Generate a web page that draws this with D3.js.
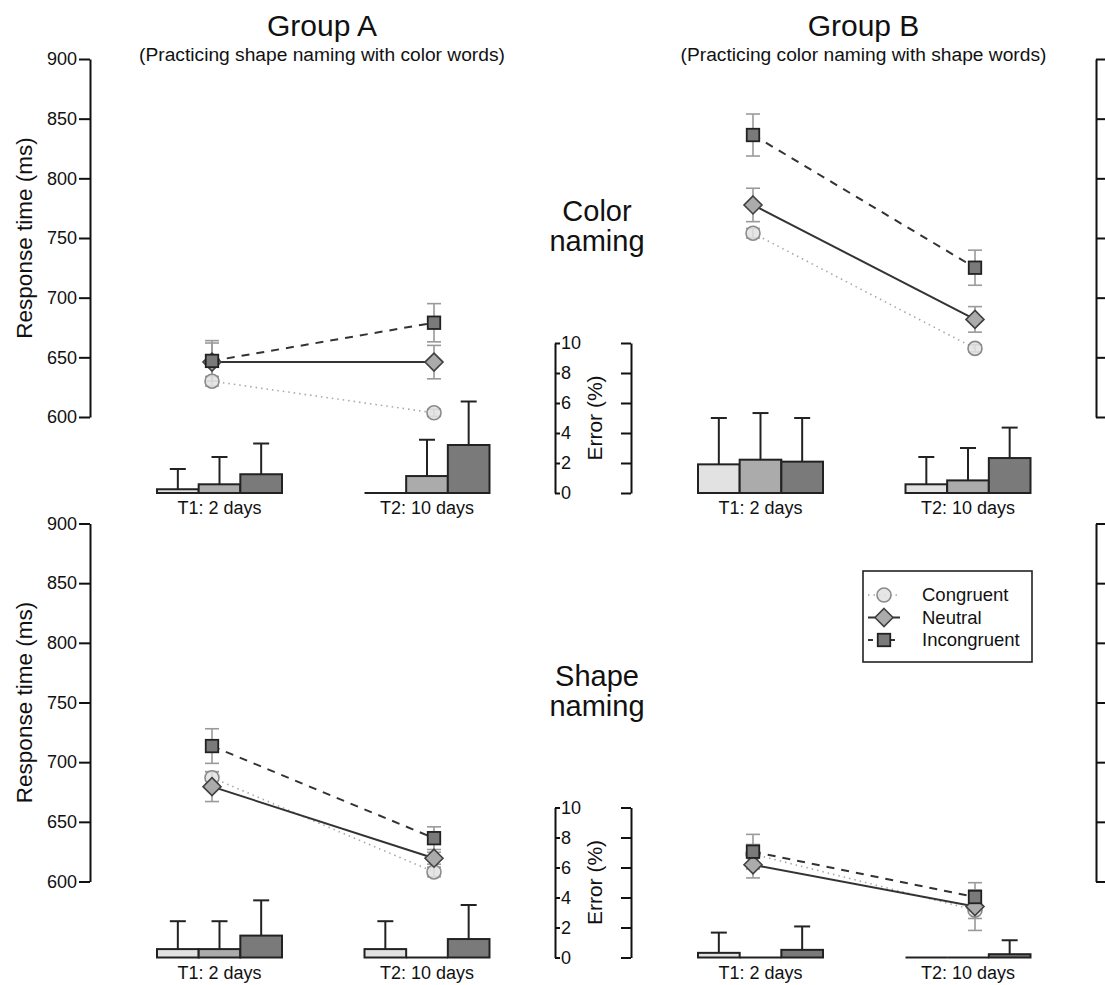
<!DOCTYPE html>
<html><head><meta charset="utf-8">
<script src="https://cdn.jsdelivr.net/npm/d3@7"></script>
<style>
body{margin:0;background:#fff;}
svg{display:block;font-family:"Liberation Sans",Arial,sans-serif;}
</style></head>
<body><svg id="c" width="1105" height="985"></svg>
<script>
// ---------- data ----------
const conditions = ["Congruent", "Neutral", "Incongruent"];
const timepoints = ["T1: 2 days", "T2: 10 days"];
const rtTicks = [600, 650, 700, 750, 800, 850, 900];
const errTicks = [0, 2, 4, 6, 8, 10];
const groupTitles = ["Group A", "Group B"];
const groupSubtitles = ["(Practicing shape naming with color words)", "(Practicing color naming with shape words)"];
const taskLabels = [["Color", "naming"], ["Shape", "naming"]];

// rows = conditions (Congruent, Neutral, Incongruent), cols = timepoints (T1, T2)
const rtColorA  = [[630, 603.5], [646, 646], [647, 679]];
const semColorA = [[4, 3], [16, 14], [17, 16]];
const errColorA = [[0.25, 0], [0.58, 1.13], [1.25, 3.2]];
const errSemColorA = [[1.35, 0], [1.82, 2.42], [2.05, 2.9]];

const rtColorB  = [[754, 657.5], [777.7, 681.8], [836.3, 725.1]];
const semColorB = [[4, 3], [14, 10.7], [17.6, 14.7]];
const errColorB = [[1.91, 0.58], [2.22, 0.84], [2.09, 2.33]];
const errSemColorB = [[3.09, 1.82], [3.11, 2.16], [2.91, 2.03]];

const rtShapeA  = [[687, 608], [679.5, 619.5], [713.5, 636.3]];
const semShapeA = [[5, 4], [12.5, 5], [14.5, 9.5]];
const errShapeA = [[0.56, 0.56], [0.56, 0], [1.46, 1.23]];
const errSemShapeA = [[1.86, 1.86], [1.86, 0], [2.35, 2.27]];

const rtShapeB  = [[623, 576], [614, 579], [625, 587]];
const semShapeB = [[8, 17], [11, 10], [14.5, 12]];
const errShapeB = [[0.31, 0], [0, 0], [0.51, 0.22]];
const errSemShapeB = [[1.35, 0], [0, 0], [1.56, 0.93]];

// ---------- styles ----------
const fills = {Congruent: "#e2e2e2", Neutral: "#ababab", Incongruent: "#7a7a7a"};
const mStroke = {Congruent: "#8a8a8a", Neutral: "#404040", Incongruent: "#222"};
const lineStyle = {
  Congruent: {stroke: "#a8a8a8", width: 1.6, dash: "1.5,4"},
  Neutral: {stroke: "#333", width: 2, dash: null},
  Incongruent: {stroke: "#333", width: 2, dash: "8,7"}
};

const svg = d3.select("#c");
const txt = "#111";

const rowOffsets = [0, 464.5];
const colOffsets = [0, 541];

const panels = [
  {row: 0, col: 0, rt: rtColorA, sem: semColorA, err: errColorA, errSem: errSemColorA},
  {row: 0, col: 1, rt: rtColorB, sem: semColorB, err: errColorB, errSem: errSemColorB},
  {row: 1, col: 0, rt: rtShapeA, sem: semShapeA, err: errShapeA, errSem: errSemShapeA},
  {row: 1, col: 1, rt: rtShapeB, sem: semShapeB, err: errShapeB, errSem: errSemShapeB}
];

function styleAxis(g, fs) {
  g.select(".domain").attr("stroke", "#111").attr("stroke-width", 2);
  g.selectAll(".tick line").attr("stroke", "#111").attr("stroke-width", 2);
  g.selectAll(".tick text").attr("fill", txt).style("font-size", fs + "px")
    .style("font-family", '"Liberation Sans",Arial,sans-serif');
}

panels.forEach(p => {
  const oy = rowOffsets[p.row], ox = colOffsets[p.col];
  const yRT = d3.scaleLinear().domain([600, 900]).range([417 + oy, 59 + oy]);
  const yErr = d3.scaleLinear().domain([0, 10]).range([493 + oy, 343 + oy]);
  const xPt = d3.scalePoint().domain(timepoints).range([212 + ox, 434 + ox]);
  const xBar = d3.scalePoint().domain(timepoints).range([219.5 + ox, 427 + ox]);
  const band = d3.scaleBand().domain(conditions).range([-62.5, 62.5]).paddingInner(0);
  const g = svg.append("g");

  // bars (error %)
  conditions.forEach((c, ci) => {
    timepoints.forEach((t, ti) => {
      const v = p.err[ci][ti], s = p.errSem[ci][ti];
      const x0 = xBar(t) + band(c);
      const xc = x0 + band.bandwidth() / 2;
      if (s > 0) {
        g.append("line").attr("x1", xc).attr("x2", xc)
          .attr("y1", yErr(v)).attr("y2", yErr(v + s))
          .attr("stroke", "#222").attr("stroke-width", 2);
        g.append("line").attr("x1", xc - 8).attr("x2", xc + 8)
          .attr("y1", yErr(v + s)).attr("y2", yErr(v + s))
          .attr("stroke", "#222").attr("stroke-width", 2);
      }
      if (v > 0) {
        g.append("rect").attr("x", x0).attr("width", band.bandwidth())
          .attr("y", yErr(v)).attr("height", yErr(0) - yErr(v))
          .attr("fill", fills[c]).attr("stroke", "#222").attr("stroke-width", 2);
      } else {
        g.append("line").attr("x1", x0).attr("x2", x0 + band.bandwidth())
          .attr("y1", yErr(0)).attr("y2", yErr(0))
          .attr("stroke", "#222").attr("stroke-width", 2);
      }
    });
  });

  // lines
  conditions.forEach((c, ci) => {
    const ls = lineStyle[c];
    const line = d3.line().x((d, i) => xPt(timepoints[i])).y(d => yRT(d));
    g.append("path").attr("d", line(p.rt[ci])).attr("fill", "none")
      .attr("stroke", ls.stroke).attr("stroke-width", ls.width)
      .attr("stroke-dasharray", ls.dash);
  });

  // RT error bars
  conditions.forEach((c, ci) => {
    timepoints.forEach((t, ti) => {
      const v = p.rt[ci][ti], s = p.sem[ci][ti], x = xPt(t);
      g.append("line").attr("x1", x).attr("x2", x).attr("y1", yRT(v - s)).attr("y2", yRT(v + s))
        .attr("stroke", "#9a9a9a").attr("stroke-width", 1.6);
      [v - s, v + s].forEach(e => g.append("line").attr("x1", x - 7).attr("x2", x + 7)
        .attr("y1", yRT(e)).attr("y2", yRT(e)).attr("stroke", "#9a9a9a").attr("stroke-width", 1.6));
    });
  });

  // markers
  conditions.forEach((c, ci) => {
    timepoints.forEach((t, ti) => {
      drawMarker(g, c, xPt(t), yRT(p.rt[ci][ti]));
    });
  });

  // x labels
  timepoints.forEach(t => {
    g.append("text").attr("x", xBar(t)).attr("y", 514 + oy).attr("text-anchor", "middle")
      .attr("fill", txt).style("font-size", "18px").text(t);
  });

  // axes
  if (p.col === 0) {
    const aL = svg.append("g").attr("transform", `translate(90,0)`)
      .call(d3.axisLeft(yRT).tickValues(rtTicks).tickSize(11).tickSizeOuter(0).tickPadding(2));
    styleAxis(aL, 18);
    const aE = svg.append("g").attr("transform", `translate(555,0)`)
      .call(d3.axisRight(yErr).tickValues(errTicks).tickSize(5).tickSizeOuter(0).tickPadding(1));
    styleAxis(aE, 18);
    svg.append("text").attr("transform", `translate(32,${(59 + 417) / 2 + oy}) rotate(-90)`)
      .attr("text-anchor", "middle").attr("fill", txt).style("font-size", "22.5px").text("Response time (ms)");
  } else {
    const aE = svg.append("g").attr("transform", `translate(631,0)`)
      .call(d3.axisLeft(yErr).tickValues(errTicks).tickSize(10).tickSizeOuter(0).tickFormat(""));
    styleAxis(aE, 18);
    const aR = svg.append("g").attr("transform", `translate(1096,0)`)
      .call(d3.axisRight(yRT).tickValues(rtTicks).tickSize(10).tickSizeOuter(0).tickFormat(""));
    styleAxis(aR, 18);
    svg.append("text").attr("transform", `translate(602,${418 + oy}) rotate(-90)`)
      .attr("text-anchor", "middle").attr("fill", txt).style("font-size", "21px").text("Error (%)");
  }
});

function drawMarker(g, c, x, y) {
  if (c === "Congruent") {
    g.append("circle").attr("cx", x).attr("cy", y).attr("r", 7)
      .attr("fill", fills[c]).attr("fill-opacity", 0.85).attr("stroke", mStroke[c]).attr("stroke-width", 1.6);
  } else if (c === "Neutral") {
    const r = 9;
    g.append("path").attr("d", `M${x},${y - r}L${x + r},${y}L${x},${y + r}L${x - r},${y}Z`)
      .attr("fill", fills[c]).attr("stroke", mStroke[c]).attr("stroke-width", 1.6);
  } else {
    const s = 12.5;
    g.append("rect").attr("x", x - s / 2).attr("y", y - s / 2).attr("width", s).attr("height", s)
      .attr("fill", fills[c]).attr("stroke", mStroke[c]).attr("stroke-width", 1.8);
  }
}

// titles
[322, 863.5].forEach((cx, i) => {
  svg.append("text").attr("x", cx).attr("y", 36).attr("text-anchor", "middle").attr("fill", txt)
    .style("font-size", "30px").text(groupTitles[i]);
  svg.append("text").attr("x", cx).attr("y", 61).attr("text-anchor", "middle").attr("fill", txt)
    .style("font-size", "19.2px").text(groupSubtitles[i]);
});

// task labels
taskLabels.forEach((lab, i) => {
  const oy = rowOffsets[i];
  svg.append("text").attr("x", 597).attr("y", 221 + oy).attr("text-anchor", "middle").attr("fill", txt)
    .style("font-size", "29px").text(lab[0]);
  svg.append("text").attr("x", 597).attr("y", 251 + oy).attr("text-anchor", "middle").attr("fill", txt)
    .style("font-size", "29px").text(lab[1]);
});

// legend
const lg = svg.append("g");
lg.append("rect").attr("x", 863).attr("y", 571).attr("width", 169).attr("height", 91)
  .attr("fill", "#fff").attr("stroke", "#222").attr("stroke-width", 1.6);
const ly = d3.scalePoint().domain(conditions).range([595, 640]);
conditions.forEach(c => {
  const y = ly(c), ls = lineStyle[c];
  lg.append("line").attr("x1", 868).attr("x2", 900).attr("y1", y).attr("y2", y)
    .attr("stroke", ls.stroke).attr("stroke-width", ls.width)
    .attr("stroke-dasharray", c === "Incongruent" ? "5,6" : ls.dash);
  drawMarker(lg, c, 884, y);
  lg.append("text").attr("x", 922).attr("y", y).attr("dy", "0.35em").attr("fill", txt)
    .style("font-size", "18.5px").text(c);
});
</script></body></html>
